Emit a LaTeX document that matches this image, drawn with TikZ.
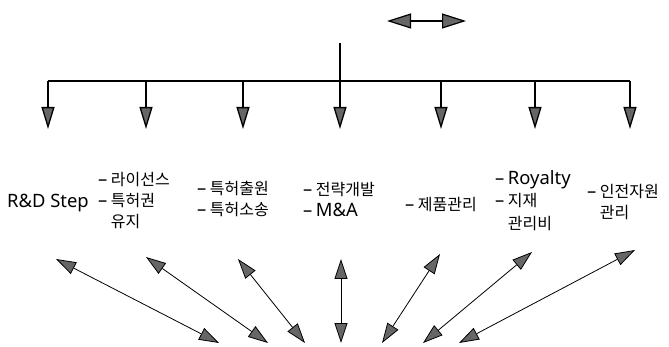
\documentclass[tikz,border=0pt]{standalone}
\usepackage{fontspec}
\setmainfont{Noto Sans CJK KR}
\newfontfamily\latn{Noto Sans}[Scale=1.15]
\usetikzlibrary{arrows.meta,positioning,calc}
\newcommand{\dsh}{{\latn –}\ }
\newcommand{\hng}{\phantom{{\latn –}\ }}
\tikzset{
item/.style = {anchor=west, inner sep=0pt, align=left, font=\fontsize{16}{21}\selectfont},
tmp/.style  = {coordinate},
twoway/.style = {line width=1.2pt, {Triangle[length=24pt,width=15pt,fill=black!60]}-{Triangle[length=24pt,width=15pt,fill=black!60]}},
drop/.style = {line width=1.3pt, -{Triangle[length=22pt,width=13pt,fill=black!60]}},
link/.style = {line width=0.8pt, {Triangle[length=20pt,width=13pt,fill=black!60]}-{Triangle[length=20pt,width=13pt,fill=black!60]}}
}
\begin{document}
\begin{tikzpicture}[x=1pt,y=-1pt]
\useasboundingbox (0,0) rectangle (669,347);
% top
\coordinate[tmp] (tl) at (387,21);
\coordinate[tmp] (tr) at (466,21);
\coordinate[tmp] (stem) at (340,43);
\coordinate[tmp] (hub) at (340,81);
\coordinate[tmp] (barl) at (48,81);
\coordinate[tmp] (barr) at (630,81);
\draw[twoway] (tl) -- (tr);
\draw[line width=1.3pt] (stem) -- (hub);
\draw[line width=1.3pt] (barl) -- (barr);
\foreach \x [count=\n] in {48,146,243,340,441,535,630} {
  \coordinate[tmp] (d\n) at (\x,81);
  \coordinate[tmp] (e\n) at (\x,129);
  \draw[drop] (d\n) -- (e\n);
}
% labels
\node[item] (rnd) at (7,203) {{\latn R\&D Step}};
\node[item] (lic) at (98,201) {\dsh 라이선스\\\dsh 특허권\\\hng 유지};
\node[item] (pat) at (197,199) {\dsh 특허출원\\\dsh 특허소송};
\node[item] (str) at (303,199) {\dsh 전략개발\\\dsh {\latn M\&A}};
\node[item] (prd) at (405,205) {\dsh 제품관리};
\node[item] (roy) at (495,201) {\dsh {\latn Royalty}\\[1pt]\dsh 지재\\[2pt]\hng 관리비};
\node[item] (hrm) at (587,202) {\dsh 인전자원\\\hng 관리};
% bottom
\foreach \ux/\uy/\bx [count=\n] in {56/259/219, 146/257/268, 238/259/305, 341/259/341, 440/254/382, 532/252/423, 635/250/459} {
  \coordinate[tmp] (u\n) at (\ux,\uy);
  \coordinate[tmp] (b\n) at (\bx,343);
  \draw[link] (u\n) -- (b\n);
}
\end{tikzpicture}
\end{document}
